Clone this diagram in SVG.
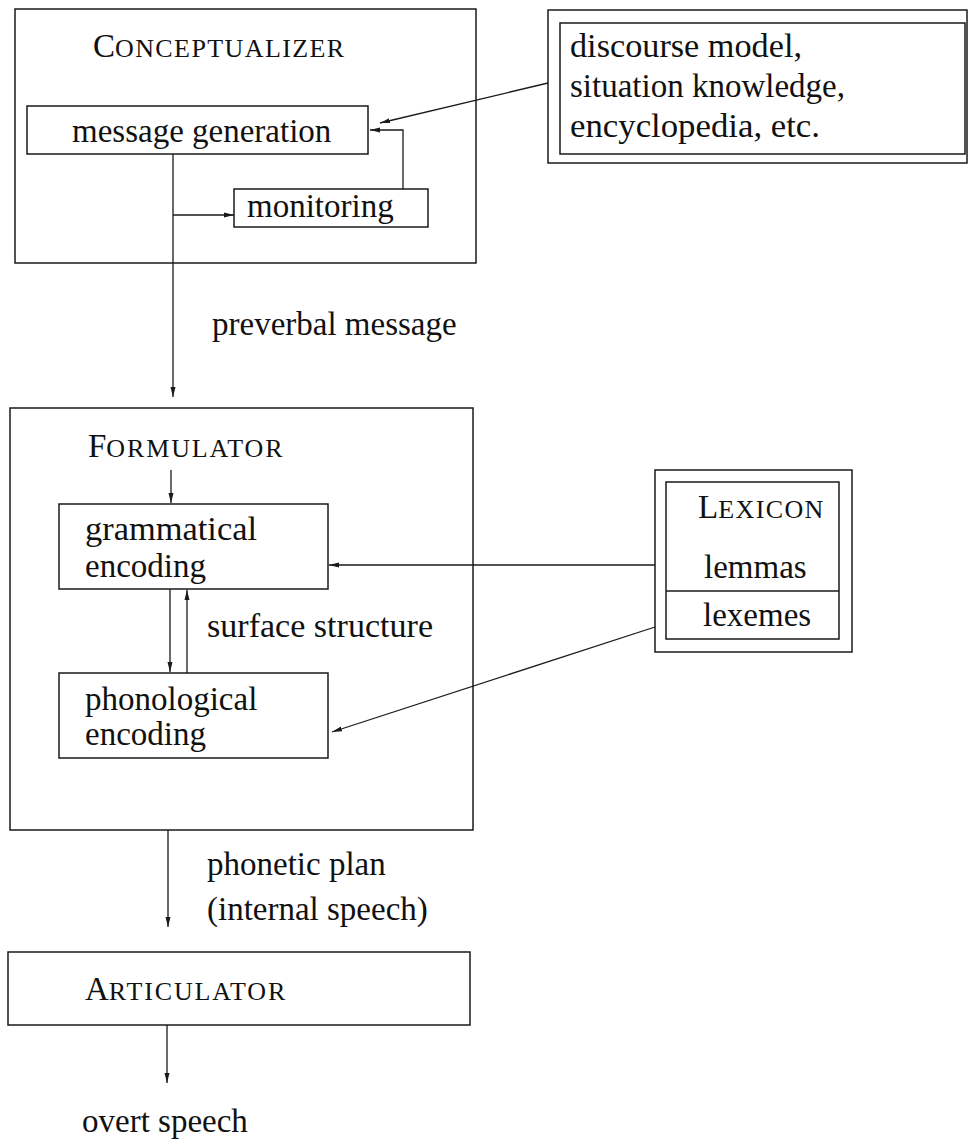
<svg xmlns="http://www.w3.org/2000/svg" width="969" height="1144" viewBox="0 0 969 1144" font-family="'Liberation Serif', 'Times New Roman', Times, serif">
<style>
.box{fill:none;stroke:#1a1a1a;stroke-width:1.5}
.ln{fill:none;stroke:#1a1a1a;stroke-width:1.3}
text{font-family:'Liberation Serif', 'Times New Roman', Times, serif;font-size:33px;fill:#111}
.sc{font-size:26px;letter-spacing:1.4px}
.sc2{font-size:26px;letter-spacing:1.85px}
</style>
<defs>
<marker id="ah" viewBox="0 0 10 6" refX="10" refY="3" markerWidth="10" markerHeight="6" markerUnits="userSpaceOnUse" orient="auto">
<path d="M0,0.5 L10,3 L0,5.5 z" fill="#1a1a1a"/>
</marker>
</defs>
<rect width="969" height="1144" fill="#fff"/>

<g id="conceptualizer">
<rect class="box" x="15" y="9" width="461" height="254"/>
<text x="93" y="57">C<tspan class="sc">ONCEPTUALIZER</tspan></text>
</g>
<g id="message-generation">
<rect class="box" x="27" y="106" width="341" height="48"/>
<text x="72" y="142">message generation</text>
</g>
<g id="monitoring">
<rect class="box" x="234" y="189" width="194" height="38"/>
<text x="247" y="217">monitoring</text>
</g>
<g id="knowledge">
<rect class="box" x="548" y="10" width="419" height="153"/>
<rect class="box" x="560" y="23" width="405" height="131"/>
<text x="570" y="57" textLength="232" lengthAdjust="spacingAndGlyphs">discourse model,</text>
<text x="570" y="97">situation knowledge,</text>
<text x="570" y="137" textLength="250" lengthAdjust="spacingAndGlyphs">encyclopedia, etc.</text>
</g>
<g id="formulator">
<rect class="box" x="10" y="408" width="463" height="422"/>
<text x="88" y="457">F<tspan class="sc2">ORMULATOR</tspan></text>
</g>
<g id="grammatical-encoding">
<rect class="box" x="59" y="504" width="269" height="85"/>
<text x="85" y="540" textLength="172" lengthAdjust="spacingAndGlyphs">grammatical</text>
<text x="85" y="577">encoding</text>
</g>
<g id="phonological-encoding">
<rect class="box" x="59" y="673" width="269" height="85"/>
<text x="85" y="710">phonological</text>
<text x="85" y="745">encoding</text>
</g>
<g id="lexicon">
<rect class="box" x="655" y="470" width="197" height="182"/>
<rect class="box" x="666" y="482" width="173" height="157"/>
<line class="box" x1="666" y1="591" x2="839" y2="591"/>
<text x="698" y="518">L<tspan class="sc">EXICON</tspan></text>
<text x="704" y="578">lemmas</text>
<text x="703" y="626">lexemes</text>
</g>
<g id="articulator">
<rect class="box" x="8" y="952" width="462" height="73"/>
<text x="85" y="1000">A<tspan class="sc2">RTICULATOR</tspan></text>
</g>

<g id="connectors">
<line class="ln" x1="548" y1="83" x2="380" y2="123" marker-end="url(#ah)"/>
<polyline class="ln" points="403,189 403,130 370,130" marker-end="url(#ah)"/>
<line class="ln" x1="173" y1="154" x2="173" y2="397" marker-end="url(#ah)"/>
<line class="ln" x1="173" y1="215" x2="234" y2="215" marker-end="url(#ah)"/>
<line class="ln" x1="171" y1="470" x2="171" y2="503" marker-end="url(#ah)"/>
<line class="ln" x1="170" y1="589" x2="170" y2="672" marker-end="url(#ah)"/>
<line class="ln" x1="187" y1="673" x2="187" y2="590" marker-end="url(#ah)"/>
<line class="ln" x1="655" y1="565" x2="329" y2="565" marker-end="url(#ah)"/>
<line class="ln" x1="655" y1="627" x2="332" y2="732" marker-end="url(#ah)"/>
<line class="ln" x1="168" y1="830" x2="168" y2="927" marker-end="url(#ah)"/>
<line class="ln" x1="167" y1="1025" x2="167" y2="1083" marker-end="url(#ah)"/>
</g>

<g id="labels">
<text x="212" y="335">preverbal message</text>
<text x="207" y="637" textLength="226" lengthAdjust="spacingAndGlyphs">surface structure</text>
<text x="207" y="875">phonetic plan</text>
<text x="207" y="920">(internal speech)</text>
<text x="82" y="1132">overt speech</text>
</g>
</svg>
